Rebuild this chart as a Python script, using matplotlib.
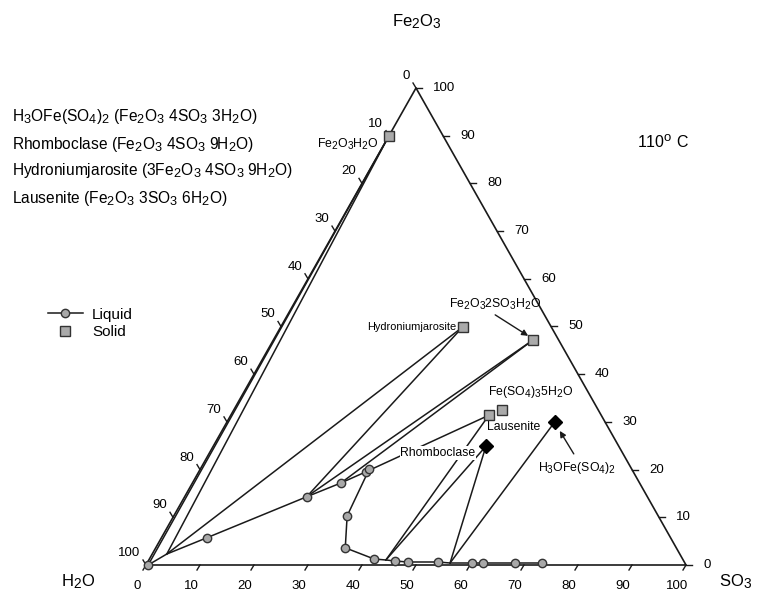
import numpy as np
import matplotlib.pyplot as plt
import matplotlib._mathtext as _mt
from matplotlib.lines import Line2D

plt.rcParams['font.family'] = ['Liberation Sans', 'DejaVu Sans']
plt.rcParams['mathtext.fontset'] = 'custom'
plt.rcParams['mathtext.rm'] = 'Liberation Sans'
plt.rcParams['mathtext.default'] = 'regular'
_mt.SHRINK_FACTOR = 0.82  # subscripts a bit larger, like the original

# liquid compositions, wt% SO3 / wt% Fe2O3 (rest is H2O)
liq_so3 = [0.4, 2.7, 8.4, 22.6, 27.5, 30.9, 31.3, 32.1, 35.1, 41.6, 43.9,
           45.7, 48.2, 53.8, 56.1, 60.2, 62.2, 68.1, 73.1]
liq_fe2o3 = [0.0, 2.3, 5.7, 14.3, 17.2, 19.5, 20.1, 10.3, 3.6, 1.26, 1.05,
             0.84, 0.63, 0.63, 0.42, 0.42, 0.42, 0.42, 0.42]
liq_marked = [1, 0, 1, 1, 1, 1, 1, 1, 1, 1, 0, 1, 1, 1, 0, 1, 1, 1, 1]

# solid phases
sol_names = ['FeOH', 'Hydro', 'FSH', 'Laus', 'FeS5', 'Rhombo', 'H3O']
sol_so3 = [0.0, 33.7, 48.1, 47.8, 49.7, 50.5, 60.7]
sol_fe2o3 = [89.9, 49.9, 47.2, 31.4, 32.5, 24.9, 30.0]
sol_diamond = ['Rhombo', 'H3O']

# tie lines: liquid index -> solid
ties = [(0, 'FeOH'), (1, 'FeOH'), (1, 'Hydro'), (3, 'Hydro'), (3, 'FSH'),
        (4, 'FSH'), (5, 'Laus'), (10, 'Laus'), (10, 'Rhombo'), (14, 'Rhombo'),
        (14, 'H3O')]

ticks = list(range(0, 101, 10))

PX = 5.4      # pixels per x unit
PY = 5.508    # pixels per y unit
S3 = np.sqrt(3) / 2


def tern(s, f):
    s = np.asarray(s, float)
    f = np.asarray(f, float)
    return s + f / 2, f * S3


def off(x, y, dx, dy):
    return x + dx / PX, y + dy / PY


fig = plt.figure(figsize=(7.69, 6.03), dpi=100)
ax = fig.add_axes([0, 0, 1, 1])
ax.set_xlim(-146 / PX, (769 - 146) / PX)
ax.set_ylim(-38 / PY, 565 / PY)
ax.axis('off')

lc = '#1a1a1a'
# triangle
ax.plot([0, 100, 50, 0], [0, 0, 100 * S3, 0], color=lc, lw=1.2, zorder=2)

# ticks + labels
for v in ticks:
    # bottom: SO3
    x, y = tern(v, 0)
    x2, y2 = off(x, y, -3, -5)
    ax.plot([x, x2], [y, y2], color=lc, lw=1)
    tx, ty = off(x, y, -9, -21)
    ax.text(tx, ty, str(v), ha='center', va='center', fontsize=9.5)
    # right: Fe2O3
    x, y = tern(100 - v, v)
    x2, y2 = off(x, y, 6, 0)
    ax.plot([x, x2], [y, y2], color=lc, lw=1)
    tx, ty = off(x, y, 17, 0)
    ax.text(tx, ty, str(v), ha='left', va='center', fontsize=9.5)
    # left: H2O
    x, y = tern(0, 100 - v)
    x2, y2 = off(x, y, -3, 5)
    ax.plot([x, x2], [y, y2], color=lc, lw=1)
    tx, ty = off(x, y, -6, 12)
    ax.text(tx, ty, str(v), ha='right', va='center', fontsize=9.5)

sol = {n: tern(s, f) for n, s, f in zip(sol_names, sol_so3, sol_fe2o3)}
lx, ly = tern(liq_so3, liq_fe2o3)

# tie lines
for i, n in ties:
    ax.plot([lx[i], sol[n][0]], [ly[i], sol[n][1]], color=lc, lw=1.1, zorder=3)

# liquid curve
mk = np.array(liq_marked, bool)
ax.plot(lx, ly, color=lc, lw=1.1, zorder=4)
ax.plot(lx[mk], ly[mk], ls='none', marker='o', ms=6, mfc='#a8a8a8',
        mec='#333333', mew=1, zorder=5)

sq = [n for n in sol_names if n not in sol_diamond]
sq_h, = ax.plot([sol[n][0] for n in sq], [sol[n][1] for n in sq], ls='none',
                marker='s', ms=6.5, mfc='#aaaaaa', mec='#333333', mew=1,
                zorder=6)
ax.plot([sol[n][0] for n in sol_diamond], [sol[n][1] for n in sol_diamond],
        ls='none', marker='D', ms=7, mfc='black', mec='black', zorder=6)

# legend
h_liq = Line2D([], [], color=lc, lw=1.1, marker='o', ms=6, mfc='#a8a8a8',
               mec='#333333', mew=1)
ax.legend([h_liq, sq_h], ['Liquid', 'Solid'], loc='upper left',
          bbox_to_anchor=(40 / 769, 1 - 300 / 603), frameon=False,
          fontsize=11, numpoints=1, handlelength=2.3, labelspacing=0.25,
          handletextpad=0.6, borderpad=0)

# point labels
LFS = 8.8


def lab(name, dx, dy, text, fs=LFS, **kw):
    x, y = off(sol[name][0], sol[name][1], dx, dy)
    return ax.text(x, y, text, fontsize=fs, va='center', **kw)


lab('FeOH', -41, -8, r'Fe$_2$O$_3$H$_2$O', ha='center')
lab('Hydro', -6, 0, 'Hydroniumjarosite', fs=7.9, ha='right')
lab('Laus', -2, -12, 'Lausenite', ha='left')
lab('FeS5', 28, 18, r'Fe(SO$_4$)$_3$5H$_2$O', ha='center')
lab('Rhombo', -48, -7, 'Rhomboclase', ha='center', zorder=4,
    bbox=dict(fc='white', ec='none', pad=0.5))
lab('FSH', -38, 35, r'Fe$_2$O$_3$2SO$_3$H$_2$O', ha='center')
lab('H3O', 22, -46, r'H$_3$OFe(SO$_4$)$_2$', ha='center')

arrow = dict(arrowstyle='-|>', color=lc, lw=1, shrinkA=0, shrinkB=0,
             mutation_scale=9)
ax.annotate('', xy=off(*sol['FSH'], -5, 4), xytext=off(*sol['FSH'], -38, 25),
            arrowprops=arrow)
ax.annotate('', xy=off(*sol['H3O'], 5, -9), xytext=off(*sol['H3O'], 19, -32),
            arrowprops=arrow)

# axis titles
fig.text(417 / 769, 1 - 22 / 603, r'Fe$_2$O$_3$', ha='center', va='center', fontsize=12)
fig.text(78 / 769, 1 - 582 / 603, r'H$_2$O', ha='center', va='center', fontsize=12)
fig.text(736 / 769, 1 - 582 / 603, r'SO$_3$', ha='center', va='center', fontsize=12)
fig.text(663 / 769, 1 - 142 / 603, r'110$^o$ C', ha='center', va='center', fontsize=11.5)

# phase key
key = [r'H$_3$OFe(SO$_4$)$_2$ (Fe$_2$O$_3$ 4SO$_3$ 3H$_2$O)',
       r'Rhomboclase (Fe$_2$O$_3$ 4SO$_3$ 9H$_2$O)',
       r'Hydroniumjarosite (3Fe$_2$O$_3$ 4SO$_3$ 9H$_2$O)',
       r'Lausenite (Fe$_2$O$_3$ 3SO$_3$ 6H$_2$O)']
for k, yy in zip(key, [117, 145, 171, 198]):
    fig.text(12 / 769, 1 - yy / 603, k, ha='left', va='center', fontsize=11.2)

fig.savefig('out.png', dpi=100)
